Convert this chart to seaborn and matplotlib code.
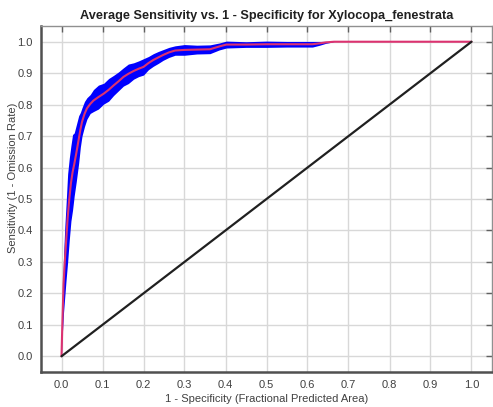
import numpy as np
import pandas as pd
import matplotlib
matplotlib.use("Agg")
import matplotlib.pyplot as plt
import seaborn as sns

# ---- data ----
fpr = [0.0, 0.002, 0.005, 0.008, 0.011, 0.015, 0.019, 0.023, 0.027, 0.031,
       0.036, 0.042, 0.046, 0.050, 0.056, 0.062, 0.070, 0.078, 0.090, 0.103,
       0.115, 0.127, 0.139, 0.151, 0.163, 0.176, 0.188, 0.200, 0.212, 0.224,
       0.236, 0.248, 0.262, 0.277, 0.300, 0.330, 0.362, 0.385, 0.402, 0.450,
       0.500, 0.550, 0.612, 0.630, 0.645, 0.665, 0.680, 0.750, 0.850, 1.000]
tpr = [0.0, 0.10, 0.23, 0.30, 0.36, 0.44, 0.50, 0.55, 0.585, 0.61,
       0.645, 0.69, 0.72, 0.745, 0.770, 0.788, 0.802, 0.813, 0.824, 0.835,
       0.847, 0.861, 0.874, 0.888, 0.898, 0.907, 0.914, 0.920, 0.932, 0.942,
       0.950, 0.958, 0.966, 0.972, 0.974, 0.975, 0.976, 0.985, 0.991, 0.991,
       0.992, 0.992, 0.992, 0.995, 0.998, 1.0, 1.0, 1.0, 1.0, 1.0]
tpr_sd = [0.0, 0.03, 0.09, 0.11, 0.12, 0.14, 0.13, 0.12, 0.12, 0.10,
          0.09, 0.075, 0.055, 0.045, 0.040, 0.034, 0.030, 0.035, 0.038, 0.033,
          0.036, 0.032, 0.030, 0.029, 0.031, 0.026, 0.025, 0.026, 0.021, 0.020,
          0.019, 0.017, 0.016, 0.015, 0.017, 0.014, 0.014, 0.011, 0.011, 0.009,
          0.010, 0.009, 0.009, 0.006, 0.003, 0.0, 0.0, 0.0, 0.0, 0.0]
diag = [0.0, 1.0]
xticks = [0.0, 0.1, 0.2, 0.3, 0.4, 0.5, 0.6, 0.7, 0.8, 0.9, 1.0]
yticks = [0.0, 0.1, 0.2, 0.3, 0.4, 0.5, 0.6, 0.7, 0.8, 0.9, 1.0]
title = "Average Sensitivity vs. 1 - Specificity for Xylocopa_fenestrata"
xlabel = "1 - Specificity (Fractional Predicted Area)"
ylabel = "Sensitivity (1 - Omission Rate)"

sns.set_style("white")
plt.rcParams['font.family'] = ['Liberation Sans', 'DejaVu Sans']

df = pd.DataFrame({"fpr": fpr, "tpr": tpr, "sd": tpr_sd})
ddf = pd.DataFrame({"x": diag, "y": diag})

fig = plt.figure(figsize=(4.93, 4.07), dpi=100)
ax = fig.add_axes([41/493, 1 - 372/407, 451/493, (372 - 26)/407])

ax.fill_between(df["fpr"], df["tpr"] - df["sd"], df["tpr"] + df["sd"],
                color="#0000ff", lw=0, zorder=2)
sns.lineplot(data=df, x="fpr", y="tpr", ax=ax, color="#dc3270", lw=1.5,
             sort=False, zorder=3)
sns.lineplot(data=ddf, x="x", y="y", ax=ax, color="#202020", lw=1.6,
             sort=False, zorder=3)

ax.set_xlim(-0.05, 1.05)
ax.set_ylim(-0.05, 1.05)
ax.set_xticks(xticks)
ax.set_yticks(yticks)
ax.set_xticklabels([f"{t:.1f}" for t in xticks])
ax.set_yticklabels([f"{t:.1f}" for t in yticks])
ax.grid(True, color="#d8d8d8", lw=1.0, zorder=0)
ax.set_axisbelow(True)
ax.tick_params(axis="both", direction="in", length=4, width=1, color="#606060",
               labelsize=8, labelcolor="#404040", pad=6,
               top=True, right=True)
for s in ["left", "bottom"]:
    ax.spines[s].set_color("#505050")
    ax.spines[s].set_linewidth(1.8)
for s in ["top", "right"]:
    ax.spines[s].set_color("#909090")
    ax.spines[s].set_linewidth(1.0)

ax.set_title(title, fontsize=9.2, fontweight="bold", color="#202020", pad=5)
ax.set_xlabel(xlabel, fontsize=8, color="#404040")
ax.set_ylabel(ylabel, fontsize=8, color="#404040")
ax.xaxis.set_label_coords(0.5, -(399 - 372) / 346)
ax.yaxis.set_label_coords(-(41 - 13) / 451, (372 - 178) / 346)
ax.yaxis.label.set_va("center")
ax.xaxis.label.set_va("center")

fig.savefig("out.png", dpi=100, facecolor="white")
